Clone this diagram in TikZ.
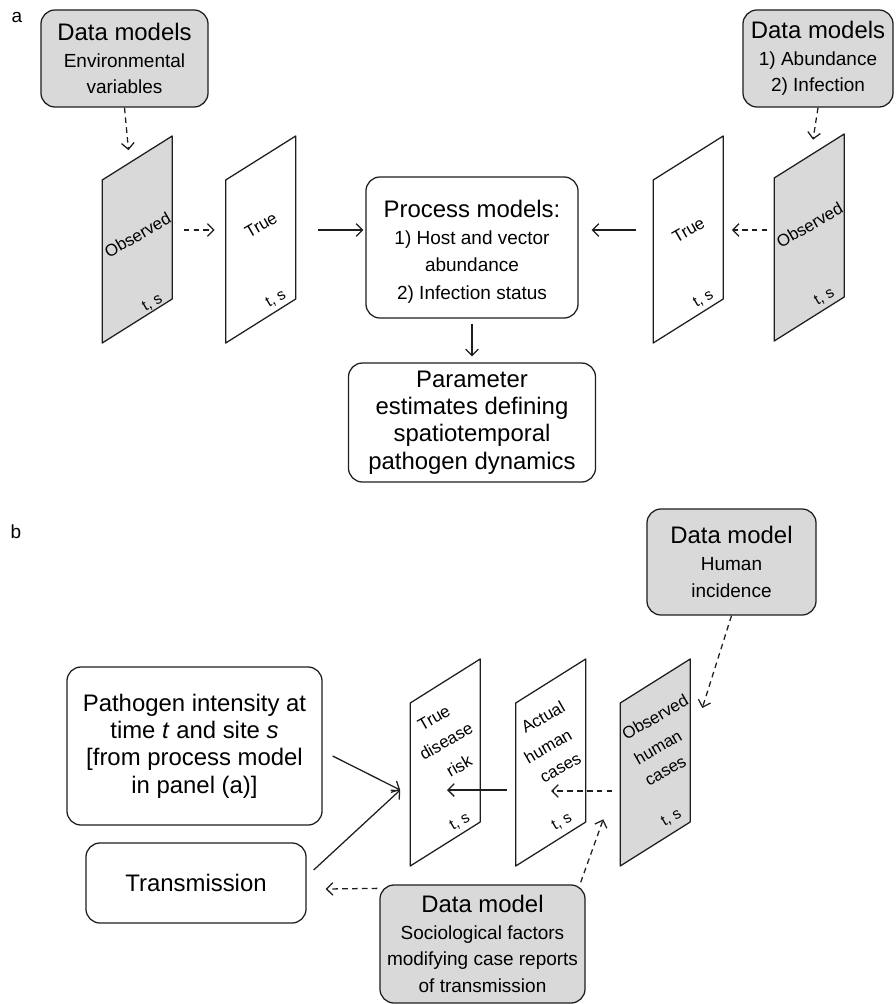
\documentclass[tikz,border=0pt]{standalone}
\usepackage{fontspec}
\setmainfont{Liberation Sans}
\usetikzlibrary{arrows.meta}
\definecolor{modelgray}{RGB}{217, 217, 217}
\definecolor{linegray}{RGB}{30, 30, 30}
\newcommand{\bigtxt}{\fontsize{17}{19.5}\selectfont}
\newcommand{\smalltxt}{\fontsize{13.5}{19}\selectfont}
% slanted data sheet: name, centre, fill
\newcommand{\sheet}[3]{%
  \node[sheetnode] (#1) at (#2) {};
  \draw[sheetline, fill=#3] (#1.west) ++(0,-59) -- ++(0,163) -- ++(70,-44) -- ++(0,-163) -- cycle;
}
\tikzset{
  box/.style={draw=linegray, line width=0.9pt, rounded corners=10pt, align=center, inner sep=0pt},
  modelbox/.style={box, fill=modelgray, font=\smalltxt},
  procbox/.style={box, fill=white, font=\bigtxt},
  sheetnode/.style={minimum width=1.75cm, minimum height=4.075cm, inner sep=0pt},
  sheetline/.style={draw=linegray, line width=0.9pt, line join=round},
  sheetlabel/.style={rotate=30, inner sep=0pt, font=\fontsize{12}{19}\selectfont},
  tslabel/.style={rotate=30, inner sep=0pt, font=\fontsize{11}{13}\selectfont},
  panellabel/.style={inner sep=0pt, font=\fontsize{13.5}{16}\selectfont},
  arrow/.style={->, draw=linegray, line width=0.9pt},
  dasharrow/.style={arrow, dash pattern=on 4pt off 3pt}
}

\begin{document}
\begin{tikzpicture}[x=0.025cm, y=-0.025cm, >={Straight Barb[length=4.5pt, width=9pt]}]
    \useasboundingbox (0,0) rectangle (895,1004);

    % Panel (a)
    \node[panellabel] (lblA) at (17,17) {a};

    % Data model boxes
    \node[modelbox, minimum width=4.175cm, minimum height=2.425cm] (dmEnv) at (124.5,58.5)
        {{\bigtxt Data models}\\ Environmental\\ variables};
    \node[modelbox, minimum width=3.75cm, minimum height=2.425cm] (dmInf) at (818,58.5)
        {{\bigtxt Data models}\\ 1) Abundance\\ 2) Infection};

    % Sheets, left and right of the process model
    \sheet{obsA}{137.5,239}{modelgray}
    \sheet{trueA}{261,239}{white}
    \sheet{trueB}{688.5,239}{white}
    \sheet{obsB}{809.5,237}{modelgray}
    \node[sheetlabel] (obsAlbl) at ([shift={(0,-4)}]obsA.center) {Observed};
    \node[sheetlabel] (trueAlbl) at ([shift={(0,-14)}]trueA.center) {True};
    \node[sheetlabel] (trueBlbl) at ([shift={(0,-9)}]trueB.center) {True};
    \node[sheetlabel] (obsBlbl) at ([shift={(0,-12)}]obsB.center) {Observed};
    \node[tslabel] (obsAts) at ([shift={(15,64)}]obsA.center) {t, s};
    \node[tslabel] (trueAts) at ([shift={(15,60)}]trueA.center) {t, s};
    \node[tslabel] (trueBts) at ([shift={(15,60)}]trueB.center) {t, s};
    \node[tslabel] (obsBts) at ([shift={(15,60)}]obsB.center) {t, s};

    % Process and parameter boxes
    \node[procbox, minimum width=5.3cm, minimum height=3.525cm] (proc) at (472,247.5)
        {\rule{0pt}{18pt}Process models:\\ {\smalltxt 1) Host and vector}\\ {\smalltxt abundance}\\ {\smalltxt 2) Infection status}};
    \node[procbox, minimum width=6.175cm, minimum height=2.975cm] (param) at (472,422.5)
        {Parameter\\ estimates defining\\ spatiotemporal\\ pathogen dynamics};

    % Connectors of panel (a)
    \draw[dasharrow] (dmEnv.south) -- ([shift={(-9,-7)}]obsA.north);
    \draw[dasharrow] ([shift={(11,-9)}]obsA.east) -- ([shift={(-11,-9)}]trueA.west);
    \draw[arrow] ([shift={(22,-9)}]trueA.east) -- ([shift={(-2,-17.5)}]proc.west);
    \draw[dasharrow] (dmInf.south) -- ([shift={(3.5,-15.5)}]obsB.north);
    \draw[dasharrow] ([shift={(-7,-7)}]obsB.west) -- ([shift={(8,-9)}]trueB.east);
    \draw[arrow] ([shift={(-17,-9)}]trueB.west) -- ([shift={(13,-17.5)}]proc.east);
    \draw[arrow] ([shift={(0,5)}]proc.south) -- ([shift={(0,-6)}]param.north);

    % Panel (b)
    \node[panellabel] (lblB) at (16,532) {b};

    \node[modelbox, minimum width=4.225cm, minimum height=2.65cm] (dmHum) at (731.5,562)
        {{\bigtxt Data model}\\ Human\\ incidence};
    \node[procbox, minimum width=6.375cm, minimum height=3.95cm] (patho) at (194.5,746)
        {Pathogen intensity at\\ time \textit{t} and site \textit{s}\\ {[}from process model\\ in panel (a)]};
    \node[procbox, minimum width=5.5cm, minimum height=2cm] (trans) at (196,883) {Transmission};
    \node[modelbox, minimum width=5.125cm, minimum height=2.95cm] (dmSoc) at (482.5,944)
        {{\bigtxt Data model}\\ Sociological factors\\ modifying case reports\\ of transmission};

    % Sheets of panel (b), one label node per line
    \sheet{truedr}{445.5,762}{white}
    \sheet{actual}{551,762}{white}
    \sheet{obsHB}{655.5,762}{modelgray}
    \node[sheetlabel] (truedrA) at ([shift={(-11.5,-44)}]truedr.center) {True};
    \node[sheetlabel] (truedrB) at ([shift={(0.5,-21)}]truedr.center) {disease};
    \node[sheetlabel] (truedrC) at ([shift={(13.5,4)}]truedr.center) {risk};
    \node[sheetlabel] (actualA) at ([shift={(-8,-45)}]actual.center) {Actual};
    \node[sheetlabel] (actualB) at ([shift={(-3,-16)}]actual.center) {human};
    \node[sheetlabel] (actualC) at ([shift={(10,7)}]actual.center) {cases};
    \node[sheetlabel] (obsHBA) at ([shift={(-0.5,-45)}]obsHB.center) {Observed};
    \node[sheetlabel] (obsHBB) at ([shift={(2.5,-15)}]obsHB.center) {human};
    \node[sheetlabel] (obsHBC) at ([shift={(10.5,10)}]obsHB.center) {cases};
    \node[tslabel] (truedrts) at ([shift={(14.5,60)}]truedr.center) {t, s};
    \node[tslabel] (actualts) at ([shift={(11,60)}]actual.center) {t, s};
    \node[tslabel] (obsHBts) at ([shift={(16,56)}]obsHB.center) {t, s};

    % Connectors of panel (b)
    \draw[dasharrow] (dmHum.south) -- ([shift={(11.5,-54)}]obsHB.east);
    \draw[dasharrow] ([shift={(-8,29)}]obsHB.west) -- ([shift={(0,29)}]actual.center);
    \draw[arrow] ([shift={(-9,28)}]actual.west) -- ([shift={(1.5,28)}]truedr.center);
    \draw[arrow] ([shift={(10,10)}]patho.east) -- ([shift={(-10,28)}]truedr.west);
    \draw[arrow] ([shift={(7,-13)}]trans.east) -- ([shift={(-10,28)}]truedr.west);
    \draw[dasharrow] ([shift={(-2,4)}]dmSoc.north west) -- ([shift={(19,6)}]trans.east);
    \draw[dasharrow] ([shift={(-5,-2)}]dmSoc.north east) -- ([shift={(17,-24.5)}]actual.south east);
\end{tikzpicture}
\end{document}
